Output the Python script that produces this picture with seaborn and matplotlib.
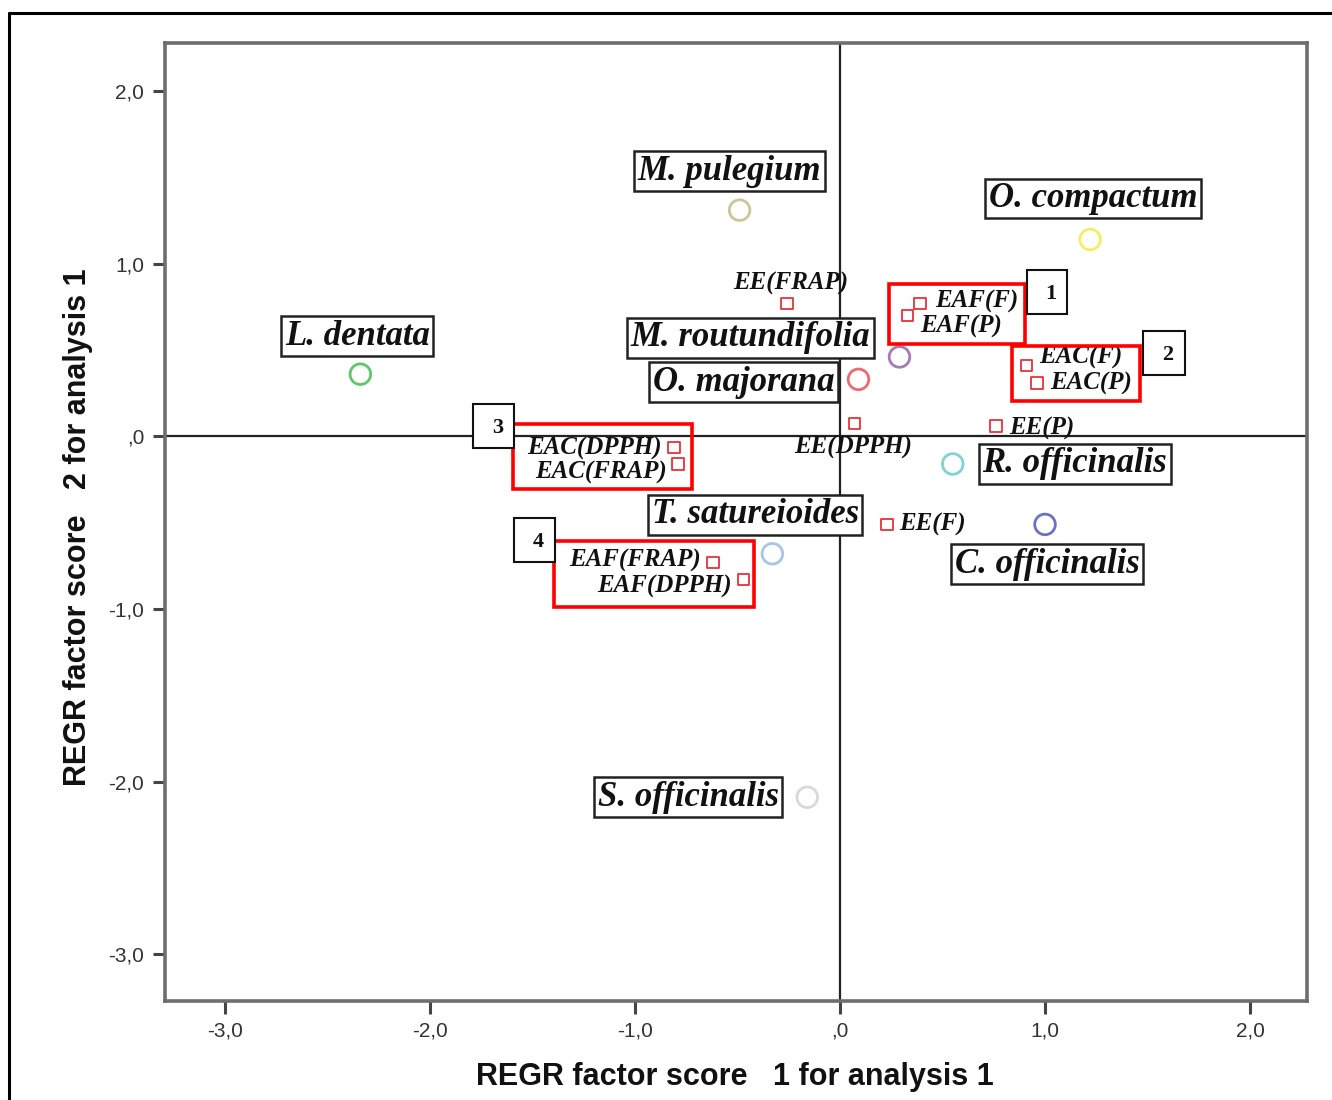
import matplotlib
matplotlib.use("Agg")
import matplotlib.pyplot as plt
import seaborn as sns
import pandas as pd
from matplotlib.lines import Line2D
from matplotlib.patches import Rectangle

# ---- data ----
species = ["L. dentata", "M. pulegium", "O. compactum", "M. routundifolia",
           "O. majorana", "R. officinalis", "C. officinalis", "T. satureioides",
           "S. officinalis"]
species_x = [-2.34, -0.49, 1.22, 0.29, 0.09, 0.55, 1.00, -0.33, -0.16]
species_y = [0.36, 1.31, 1.14, 0.46, 0.33, -0.16, -0.51, -0.68, -2.09]
species_colors = ["#5cc86a", "#cbc69a", "#f2f060", "#a47ab8", "#ec6a74",
                  "#7fd3d0", "#6a72c4", "#a8c4e6", "#d8d8d8"]

extracts = ["EE(FRAP)", "EAF(F)", "EAF(P)", "EAC(F)", "EAC(P)", "EE(DPPH)",
            "EE(P)", "EE(F)", "EAC(DPPH)", "EAC(FRAP)", "EAF(FRAP)", "EAF(DPPH)"]
extract_x = [-0.26, 0.39, 0.33, 0.91, 0.96, 0.07, 0.76, 0.23, -0.81, -0.79, -0.62, -0.47]
extract_y = [0.77, 0.77, 0.70, 0.41, 0.31, 0.075, 0.06, -0.51, -0.064, -0.16, -0.73, -0.83]

xticks = [-3.0, -2.0, -1.0, 0.0, 1.0, 2.0]
yticks = [2.0, 1.0, 0.0, -1.0, -2.0, -3.0]
xtick_labels = ["-3,0", "-2,0", "-1,0", ",0", "1,0", "2,0"]
ytick_labels = ["2,0", "1,0", ",0", "-1,0", "-2,0", "-3,0"]

group_numbers = ["1", "2", "3", "4"]

# ---- style ----
sns.set_theme(style="white")
plt.rcParams["font.family"] = ["Liberation Sans", "DejaVu Sans"]

fig = plt.figure(figsize=(13.32, 11.0), dpi=100)
ax = fig.add_axes([165 / 1332, 1 - 1001 / 1100, (1307 - 165) / 1332, (1001 - 43) / 1100])
ax.set_xlim(-3.293, 2.278)
ax.set_ylim(-3.27, 2.278)

df_s = pd.DataFrame({"x": species_x, "y": species_y, "name": species})
df_e = pd.DataFrame({"x": extract_x, "y": extract_y, "name": extracts})

ax.axhline(0, color="#222222", lw=1.6, zorder=1)
ax.axvline(0, color="#222222", lw=1.6, zorder=1)

sns.scatterplot(data=df_s, x="x", y="y", hue="name", palette=species_colors,
                marker="o", s=220, linewidth=2.0, legend=False, ax=ax, zorder=3)
coll = ax.collections[-1]
coll.set_edgecolors(species_colors)
coll.set_facecolors("none")

sns.scatterplot(data=df_e, x="x", y="y", marker="s", s=70, color="none",
                edgecolor="#e8323c", linewidth=1.3, legend=False, ax=ax, zorder=4)
ecoll = ax.collections[-1]
ecoll.set_facecolors("none")
ecoll.set_edgecolors("#e8323c")

serif = ["Liberation Serif", "DejaVu Serif"]

# species labels (offsets in pixels)
sp_off = [(-3, 38), (-10, 39), (3, 41), (-149, 19), (-115, -3), (122, 0),
          (2, -40), (-17, 39), (-119, 0)]
for name, x, y, (dx, dy) in zip(species, species_x, species_y, sp_off):
    ax.annotate(name, (x, y), xytext=(dx, dy), textcoords="offset pixels",
                ha="center", va="center", fontsize=25, fontweight="bold",
                fontstyle="italic", family=serif, color="#111111", zorder=6,
                bbox=dict(boxstyle="square,pad=0.1", fc="white", ec="#222222", lw=1.8))

# extract labels
ex_off = [(4, 20, "center"), (15, 2, "left"), (13, -11, "left"), (13, 8, "left"),
          (13, -1, "left"), (-1, -24, "center"), (13, -2, "left"), (12, 0, "left"),
          (-12, -1, "right"), (-11, -8, "right"), (-12, 2, "right"), (-12, -7, "right")]
for name, x, y, (dx, dy, ha) in zip(extracts, extract_x, extract_y, ex_off):
    ax.annotate(name, (x, y), xytext=(dx, dy), textcoords="offset pixels",
                ha=ha, va="center", fontsize=18, fontweight="bold",
                fontstyle="italic", family=serif, color="#111111", zorder=5)

def px2data(px, py):
    return ax.transData.inverted().transform(
        fig.transFigure.transform((px / 1332, 1 - py / 1100)))

fig.canvas.draw()
group_boxes = [(889, 284, 1025, 344), (1012, 346, 1140, 401),
               (513, 424, 692, 489), (554, 541, 754, 607)]
for (x0, y0, x1, y1) in group_boxes:
    a = px2data(x0, y1)
    b = px2data(x1, y0)
    ax.add_patch(Rectangle(a, b[0] - a[0], b[1] - a[1], fill=False,
                           ec="#ff0000", lw=2.6, zorder=7))

num_boxes = [(1027, 270, 1067, 314), (1143, 331, 1185, 375),
             (473, 404, 514, 448), (514, 518, 555, 562)]
for lab, (x0, y0, x1, y1) in zip(group_numbers, num_boxes):
    a = px2data(x0, y1)
    b = px2data(x1, y0)
    ax.add_patch(Rectangle(a, b[0] - a[0], b[1] - a[1], fc="white",
                           ec="#111111", lw=1.5, zorder=8))
    c = px2data((x0 + x1) / 2 + 4, (y0 + y1) / 2 + 2)
    ax.text(c[0], c[1], lab, ha="center", va="center", fontsize=16,
            fontweight="bold", family=serif, color="#111111", zorder=9)

# axes styling
for s in ax.spines.values():
    s.set_color("#6e6e6e")
    s.set_linewidth(2.6)
ax.set_xticks(xticks)
ax.set_xticklabels(xtick_labels)
ax.set_yticks(yticks)
ax.set_yticklabels(ytick_labels)
ax.tick_params(axis="both", direction="out", length=9, width=2.2, color="#444444",
               labelsize=15, labelcolor="#333333", bottom=True, left=True)
ax.tick_params(axis="x", pad=6)
ax.tick_params(axis="y", pad=6)
ax.grid(False)

ax.set_xlabel("REGR factor score   1 for analysis 1", fontsize=22, fontweight="bold",
              color="#111111", va="center")
ax.set_ylabel("REGR factor score   2 for analysis 1", fontsize=22, fontweight="bold",
              color="#111111", va="center")
ax.xaxis.set_label_coords((735 - 165) / (1307 - 165), -(1077 - 1001) / (1001 - 43))
ax.yaxis.set_label_coords(-(165 - 78) / (1307 - 165), (1001 - 527) / (1001 - 43))

# outer frame lines (top and left)
fig.add_artist(Line2D([9 / 1332, 1.0], [1 - 13 / 1100, 1 - 13 / 1100],
                      transform=fig.transFigure, color="black", lw=2.2))
fig.add_artist(Line2D([9 / 1332, 9 / 1332], [0.0, 1 - 13 / 1100],
                      transform=fig.transFigure, color="black", lw=2.2))

fig.savefig("out.png", dpi=100, facecolor="white")
